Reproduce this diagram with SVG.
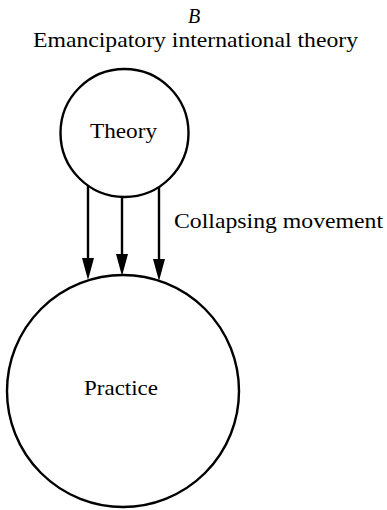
<svg xmlns="http://www.w3.org/2000/svg" width="387" height="510" viewBox="0 0 387 510">
<style>
.txt{font-family:"Liberation Serif","Times New Roman",serif;fill:#000;}
.node{fill:none;stroke:#000;stroke-width:2.4;}
.conn{stroke:#000;stroke-width:2.4;fill:none;}
.head{fill:#000;}
</style>
<rect width="387" height="510" fill="#fff"/>
<text class="txt" x="194" y="23" font-size="20" font-style="italic" text-anchor="middle">B</text>
<text class="txt" x="195.5" y="47" font-size="22" text-anchor="middle" textLength="325" lengthAdjust="spacingAndGlyphs">Emancipatory international theory</text>
<g id="theory">
<circle class="node" cx="124.5" cy="133" r="64"/>
<text class="txt" x="123.5" y="138" font-size="22" text-anchor="middle" textLength="67" lengthAdjust="spacingAndGlyphs">Theory</text>
</g>
<g id="practice">
<circle class="node" cx="123" cy="391" r="116"/>
<text class="txt" x="121" y="395" font-size="22" text-anchor="middle" textLength="74" lengthAdjust="spacingAndGlyphs">Practice</text>
</g>
<g id="connectors">
<path d="M88,186 V259" class="conn"/>
<path d="M122,197 V255" class="conn"/>
<path d="M159,187 V260" class="conn"/>
<path class="head" d="M82,258 L94,258 L88,280 Z"/>
<path class="head" d="M116,254 L128,254 L122,276 Z"/>
<path class="head" d="M153,259 L165,259 L159,281 Z"/>
<text class="txt" x="174" y="228" font-size="22" textLength="209" lengthAdjust="spacingAndGlyphs">Collapsing movement</text>
</g>
</svg>
